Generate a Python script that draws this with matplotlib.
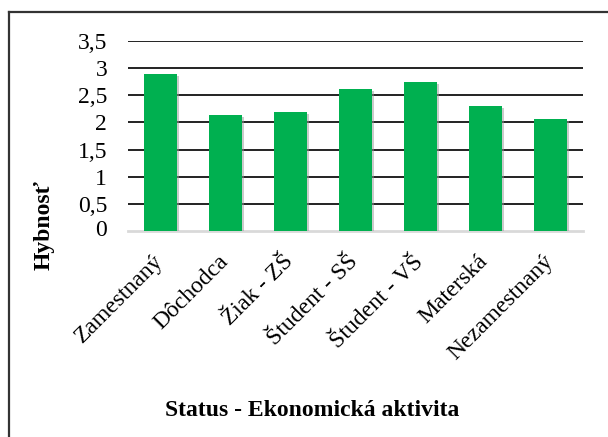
import matplotlib
matplotlib.use("Agg")
import matplotlib.pyplot as plt
import matplotlib.patheffects as pe
from matplotlib.lines import Line2D
from matplotlib.transforms import ScaledTranslation

# Hodnoty odcitane z grafu
categories = ["Zamestnaný", "Dôchodca", "Žiak - ZŠ", "Študent - SŠ",
              "Študent - VŠ", "Materská", "Nezamestnaný"]
values = [2.90, 2.14, 2.20, 2.61, 2.74, 2.30, 2.07]
y_ticks = [0, 0.5, 1, 1.5, 2, 2.5, 3, 3.5]
y_tick_labels = ["0", "0,5", "1", "1,5", "2", "2,5", "3", "3,5"]

W, H = 608, 437

plt.rcParams['font.family'] = ['Liberation Serif', 'DejaVu Serif']

fig = plt.figure(figsize=(W / 100, H / 100), dpi=100)
ax = fig.add_axes([128 / W, 1 - 231 / H, 455 / W, 190 / H])

x = range(len(categories))
bars = ax.bar(x, values, width=0.5, color="#00B050", zorder=3)
for b in bars:
    b.set_path_effects([pe.SimplePatchShadow(offset=(1.5, -1.5), shadow_rgbFace="#999999", alpha=0.5),
                        pe.Normal()])

ax.set_xlim(-0.5, len(categories) - 0.5)
ax.set_ylim(0, 3.5)
ax.set_yticks(y_ticks[1:])
ax.set_yticklabels(y_tick_labels[1:], fontsize=17)
ax.yaxis.grid(True, color="#222222", linewidth=1.4, zorder=0)
ax.set_axisbelow(True)

ax.set_xticks(list(x))
ax.set_xticklabels(categories, rotation=45, ha="right", rotation_mode="anchor", fontsize=17)
ax.tick_params(axis="both", length=0)
ax.tick_params(axis="x", pad=8)
ax.tick_params(axis="y", pad=15)

# posun popiskov nizsie a dolava ako v originali
shift = ScaledTranslation(-8 / 100, -9 / 100, fig.dpi_scale_trans)
for lbl in ax.get_xticklabels():
    lbl.set_transform(lbl.get_transform() + shift)

# popisok 0 zvlast, aby sedel pri spodnej osi
ax.text(-0.046, 0, "0", transform=ax.get_yaxis_transform(), ha="right", va="center", fontsize=17)

for side in ["top", "right", "left"]:
    ax.spines[side].set_visible(False)
ax.spines["bottom"].set_color("#d9d9d9")
ax.spines["bottom"].set_linewidth(2)

fig.text(44 / W, 1 - 225 / H, "Hybnosť", rotation=90, ha="center", va="center",
         fontsize=17, fontweight="bold")
fig.text(312 / W, 1 - 411 / H, "Status - Ekonomická aktivita", ha="center", va="center",
         fontsize=17, fontweight="bold")

# ramcek grafu
fig.add_artist(Line2D([8.5 / W, 8.5 / W], [0, 1 - 11.5 / H], color="#333333", linewidth=1.6))
fig.add_artist(Line2D([8.5 / W, 1], [1 - 11.5 / H, 1 - 11.5 / H], color="#333333", linewidth=1.6))

fig.savefig("out.png", dpi=100)
